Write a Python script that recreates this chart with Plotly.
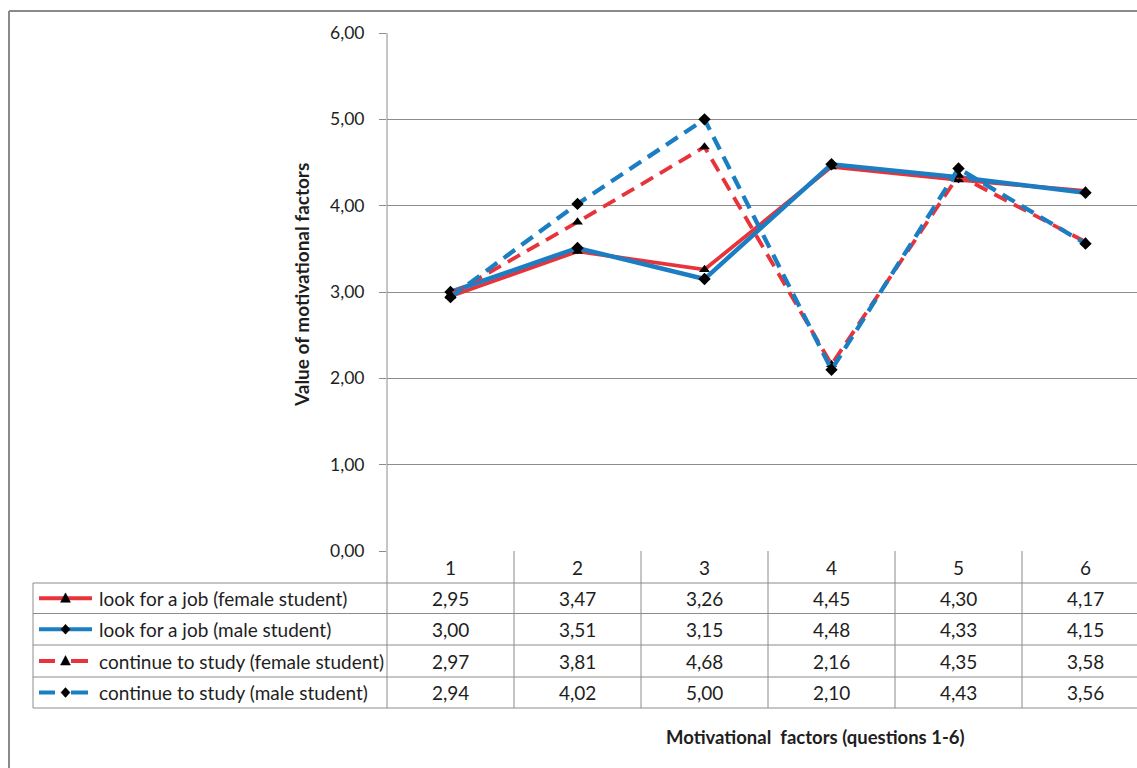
import plotly.graph_objects as go

categories = [1, 2, 3, 4, 5, 6]
series_names = [
    "look for a job (female student)",
    "look for a job (male student)",
    "continue to study (female student)",
    "continue to study (male student)",
]
job_female = [2.95, 3.47, 3.26, 4.45, 4.30, 4.17]
job_male = [3.00, 3.51, 3.15, 4.48, 4.33, 4.15]
study_female = [2.97, 3.81, 4.68, 2.16, 4.35, 3.58]
study_male = [2.94, 4.02, 5.00, 2.10, 4.43, 3.56]
y_ticks = [0, 1, 2, 3, 4, 5, 6]
x_title = "Motivational  factors (questions 1-6)"
y_title = "Value of motivational factors"

series_values = [job_female, job_male, study_female, study_male]

RED = "#E8333B"
BLUE = "#1B7EC2"
DASH = "14px,8px"
styles = [
    dict(color=RED, width=3.8, dash="solid", symbol="triangle-up"),
    dict(color=BLUE, width=4.5, dash="solid", symbol="diamond"),
    dict(color=RED, width=3.8, dash=DASH, symbol="triangle-up"),
    dict(color=BLUE, width=4.3, dash=DASH, symbol="diamond"),
]

W, H = 1137, 768
L, T, B = 387, 33, 551
R = W
COLW = 127.0

def fmt(v):
    return f"{v:.2f}".replace(".", ",")

def px_x(p):
    return (p - L) / (R - L)

def px_y(p):
    return (B - p) / (B - T)

fig = go.Figure()
for name, vals, st in zip(series_names, series_values, styles):
    fig.add_trace(go.Scatter(
        x=categories, y=vals, name=name, mode="lines+markers",
        line=dict(color=st["color"], width=st["width"], dash=st["dash"]),
        marker=dict(symbol=st["symbol"], color="black", size=9.5),
        showlegend=False, cliponaxis=False,
    ))

x_max = 0.5 + (R - L) / COLW

shapes = []
annotations = []
GRID = "#8C8C8C"
TXT = "#1e1e1e"
FONT = "Lato"
FS = 19

# outer chart border (top and left)
shapes.append(dict(type="line", xref="paper", yref="paper", x0=px_x(9), x1=px_x(W + 5), y0=px_y(11), y1=px_y(11),
                   line=dict(color="#8a8a8a", width=2)))
shapes.append(dict(type="line", xref="paper", yref="paper", x0=px_x(9), x1=px_x(9), y0=px_y(11), y1=px_y(H + 5),
                   line=dict(color="#8a8a8a", width=2)))

# y axis line extended through table
shapes.append(dict(type="line", xref="paper", yref="paper", x0=0, x1=0, y0=1, y1=px_y(708),
                   line=dict(color=GRID, width=1)))
# column separators
for k in range(1, len(categories) + 1):
    xb = k + 0.5
    shapes.append(dict(type="line", xref="x", yref="paper", x0=xb, x1=xb, y0=0, y1=px_y(708),
                       line=dict(color=GRID, width=1)))
# row lines
row_lines = [583, 613.5, 645, 677, 708]
for ry in row_lines:
    shapes.append(dict(type="line", xref="paper", yref="paper", x0=px_x(33), x1=1.01, y0=px_y(ry), y1=px_y(ry),
                       line=dict(color=GRID, width=1)))
shapes.append(dict(type="line", xref="paper", yref="paper", x0=px_x(33), x1=px_x(33), y0=px_y(583), y1=px_y(708),
                   line=dict(color=GRID, width=1)))

# header numbers
for c in categories:
    annotations.append(dict(x=c, y=px_y(567), xref="x", yref="paper", text=str(c), showarrow=False,
                            xanchor="center", yanchor="middle",
                            font=dict(family=FONT, size=FS, color=TXT)))

def tri_path(cx, cy, s):
    pts = [(cx, cy - s * 0.6), (cx - s * 0.55, cy + s * 0.45), (cx + s * 0.55, cy + s * 0.45)]
    return "M " + " L ".join(f"{px_x(a)},{px_y(b)}" for a, b in pts) + " Z"

def dia_path(cx, cy, s):
    pts = [(cx, cy - s * 0.55), (cx + s * 0.5, cy), (cx, cy + s * 0.55), (cx - s * 0.5, cy)]
    return "M " + " L ".join(f"{px_x(a)},{px_y(b)}" for a, b in pts) + " Z"

# rows
for i, (name, vals, st) in enumerate(zip(series_names, series_values, styles)):
    cy = (row_lines[i] + row_lines[i + 1]) / 2
    for c, v in zip(categories, vals):
        annotations.append(dict(x=c, y=px_y(cy), xref="x", yref="paper", text=fmt(v), showarrow=False,
                                xanchor="center", yanchor="middle",
                                font=dict(family=FONT, size=FS, color=TXT)))
    annotations.append(dict(x=px_x(97), y=px_y(cy), xref="paper", yref="paper", text=name, showarrow=False,
                            xanchor="left", yanchor="middle", font=dict(family=FONT, size=FS, color=TXT)))
    # legend key
    if st["dash"] == "solid":
        shapes.append(dict(type="line", xref="paper", yref="paper", x0=px_x(39), x1=px_x(92),
                           y0=px_y(cy), y1=px_y(cy), line=dict(color=st["color"], width=4)))
    else:
        for a, b in [(39, 55), (71, 88)]:
            shapes.append(dict(type="line", xref="paper", yref="paper", x0=px_x(a), x1=px_x(b),
                               y0=px_y(cy), y1=px_y(cy), line=dict(color=st["color"], width=4)))
    path = tri_path(65.5, cy, 9) if st["symbol"] == "triangle-up" else dia_path(65.5, cy, 9)
    shapes.append(dict(type="path", xref="paper", yref="paper", path=path,
                       fillcolor="black", line=dict(color="black", width=0.5)))

# axis titles
annotations.append(dict(x=px_x(815), y=px_y(737), xref="paper", yref="paper",
                        text=f"<b>{x_title}</b>", showarrow=False, xanchor="center", yanchor="middle",
                        font=dict(family=FONT, size=18.5, color=TXT)))
annotations.append(dict(x=px_x(301), y=px_y(285), xref="paper", yref="paper",
                        text=f"<b>{y_title}</b>", showarrow=False, textangle=-90,
                        xanchor="center", yanchor="middle",
                        font=dict(family=FONT, size=19, color=TXT)))

fig.update_layout(
    width=W, height=H,
    margin=dict(l=L, r=W - R, t=T, b=H - B, pad=0),
    paper_bgcolor="white", plot_bgcolor="white",
    xaxis=dict(range=[0.5, x_max], showgrid=False, showticklabels=False, zeroline=False, showline=False,
               fixedrange=True),
    yaxis=dict(range=[0, 6], tickvals=y_ticks, ticktext=[fmt(v) for v in y_ticks], showgrid=True,
               gridcolor=GRID, gridwidth=1, zeroline=False, showline=False, ticks="outside", ticklen=7,
               tickcolor=GRID, tickfont=dict(family=FONT, size=17.5, color=TXT), ticklabelstandoff=11),
    shapes=shapes, annotations=annotations,
)
fig.write_html("out.html", post_script="document.body.style.margin='0';",
               config={"displayModeBar": False})
